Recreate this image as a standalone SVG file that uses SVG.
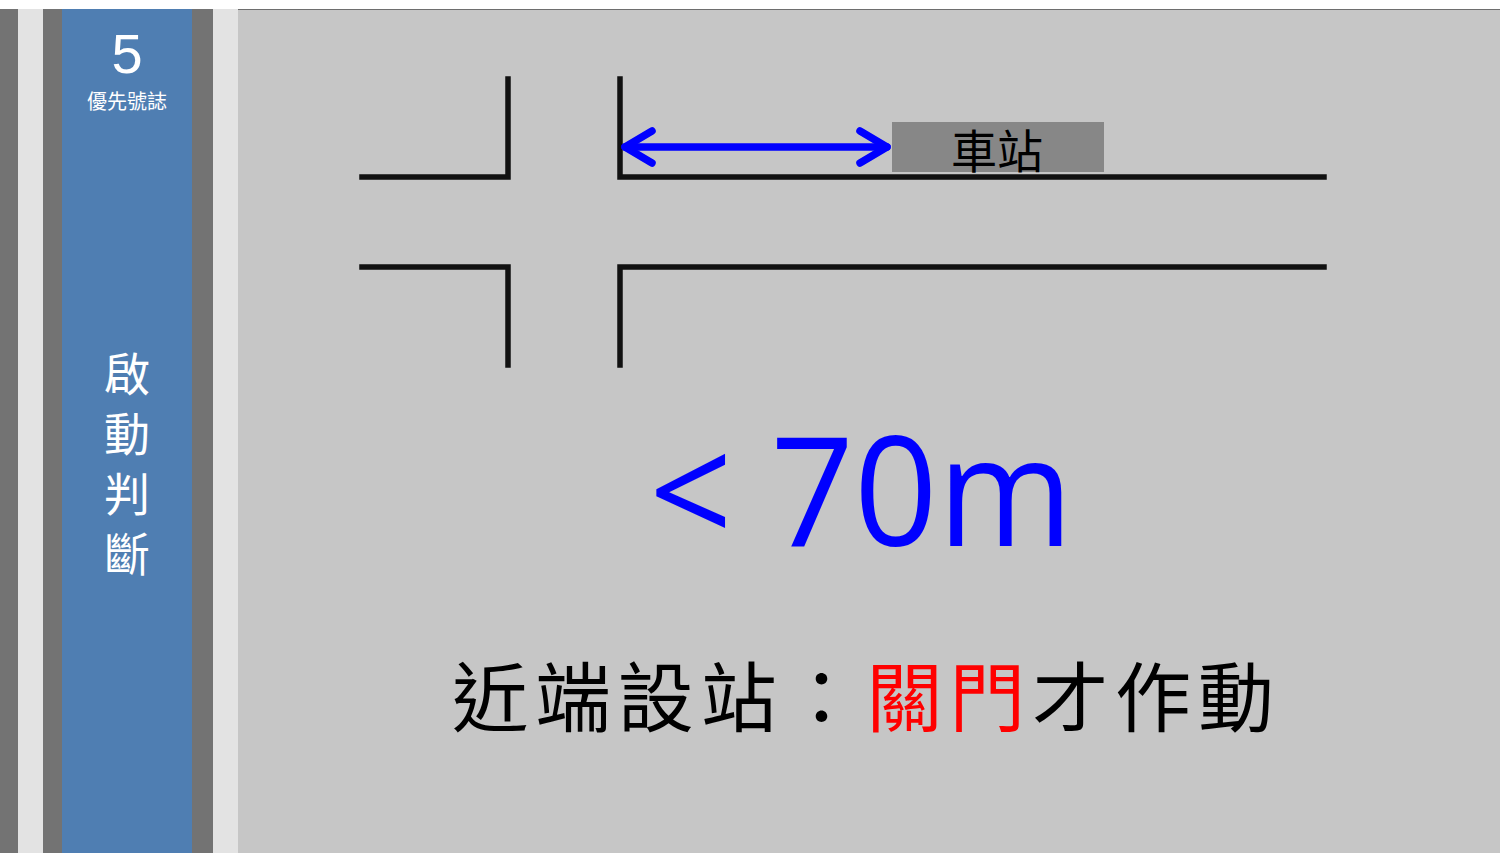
<svg xmlns="http://www.w3.org/2000/svg" width="1500" height="853" viewBox="0 0 1500 853">
<defs>
<style>
.road{stroke:#111111;stroke-width:5.5;fill:none;stroke-linecap:square}
.cjk{font-family:"Noto Sans CJK TC","Noto Sans CJK SC",sans-serif}
.arrow{stroke:#0000FF;stroke-width:7.5;fill:none;stroke-linecap:round;stroke-linejoin:round}
.side{font-size:46px;fill:#FFFFFF;text-anchor:middle}
</style>
</defs>
<rect x="0" y="0" width="1500" height="853" fill="#FFFFFF"/>
<g id="sidebar">
<rect x="0" y="9" width="18" height="844" fill="#737373"/>
<rect x="18" y="9" width="25" height="844" fill="#E3E3E3"/>
<rect x="43" y="9" width="19" height="844" fill="#737373"/>
<rect x="62" y="9" width="130" height="844" fill="#4F7EB2"/>
<rect x="192" y="9" width="21" height="844" fill="#737373"/>
<rect x="213" y="9" width="25" height="844" fill="#E3E3E3"/>
<text x="127" y="73" font-family="Liberation Sans, Arial, sans-serif" font-size="56" fill="#FFFFFF" text-anchor="middle">5</text>
<text x="127" y="109" class="cjk" font-size="20" fill="#FFFFFF" text-anchor="middle">優先號誌</text>
<text x="127" y="391" class="cjk side">啟</text>
<text x="127" y="451" class="cjk side">動</text>
<text x="127" y="511" class="cjk side">判</text>
<text x="127" y="571" class="cjk side">斷</text>
</g>
<rect x="238" y="9" width="1262" height="844" fill="#C6C6C6"/>
<line x1="238" y1="9.5" x2="1500" y2="9.5" stroke="#6E6E6E" stroke-width="1"/>
<g id="roads">
<polyline class="road" points="362,177 508,177 508,79"/>
<polyline class="road" points="620,79 620,177 1324,177"/>
<polyline class="road" points="362,267 508,267 508,365"/>
<polyline class="road" points="620,365 620,267 1324,267"/>
</g>
<g id="station">
<rect x="892" y="122" width="212" height="50" fill="#878787"/>
<text x="997" y="168" class="cjk" font-size="46" fill="#000000" text-anchor="middle">車站</text>
</g>
<g id="connectors">
<line class="arrow" x1="625" y1="147" x2="887" y2="147"/>
<polyline class="arrow" points="652,131 625,147 652,163"/>
<polyline class="arrow" points="860,131 887,147 860,163"/>
</g>
<g id="distance">
<text x="649" y="546" font-family="Open Sans, sans-serif" font-size="152" fill="#0000FF" textLength="424" lengthAdjust="spacingAndGlyphs">&lt; 70m</text>
</g>
<g id="caption">
<text x="452" y="726" class="cjk" font-size="76" fill="#000000" textLength="822" lengthAdjust="spacing">近端設站：<tspan fill="#FF0000">關門</tspan>才作動</text>
</g>
</svg>
